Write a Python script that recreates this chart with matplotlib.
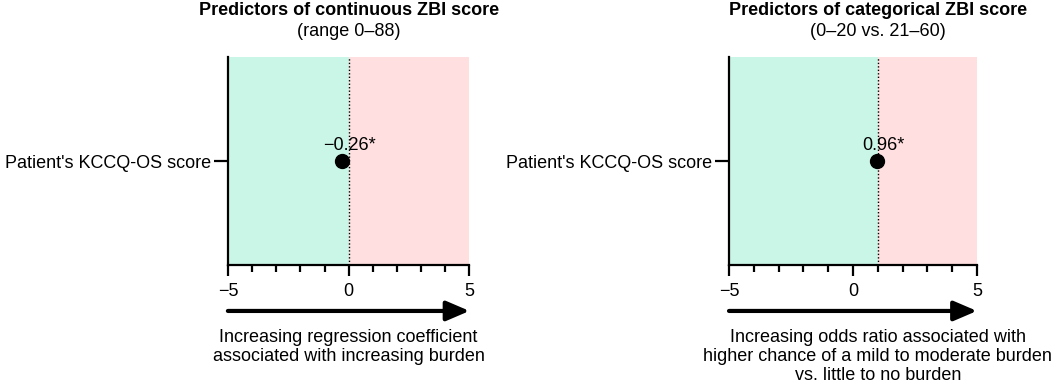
import matplotlib.pyplot as plt
from matplotlib.ticker import MultipleLocator

plt.rcParams['font.family'] = ['Liberation Sans', 'DejaVu Sans']

# data
predictor = "Patient's KCCQ-OS score"
estimates = [-0.26, 0.96]
estimate_labels = ['\u22120.26*', '0.96*']
ref_lines = [0, 1]
titles = ['Predictors of continuous ZBI score', 'Predictors of categorical ZBI score']
subtitles = ['(range 0\u201388)', '(0\u201320 vs. 21\u201360)']
x_captions = ['Increasing regression coefficient\nassociated with increasing burden',
              'Increasing odds ratio associated with\nhigher chance of a mild to moderate burden\nvs. little to no burden']
x_min, x_max = -5, 5

verde = '#CAF6E7'
rosa = '#FFDFDF'
fs = 13

fig = plt.figure(figsize=(10.55, 3.86), dpi=100)
posiciones = [[0.216, 0.313, 0.229, 0.539], [0.691, 0.313, 0.235, 0.539]]

for i in range(2):
    ax = fig.add_axes(posiciones[i])
    ax.set_xlim(x_min, x_max)
    ax.set_ylim(-1, 1)
    ax.axvspan(x_min, ref_lines[i], color=verde, lw=0, zorder=0)
    ax.axvspan(ref_lines[i], x_max, color=rosa, lw=0, zorder=0)
    ax.axvline(ref_lines[i], color='black', lw=1, ls=(0, (1, 1.5)), zorder=1)
    ax.plot([estimates[i]], [0], 'o', color='black', markersize=10, zorder=3)
    ax.annotate(estimate_labels[i], (estimates[i], 0), xytext=(5, 5),
                textcoords='offset points', ha='center', va='bottom', fontsize=fs)

    for s in ['top', 'right']:
        ax.spines[s].set_visible(False)
    ax.spines['left'].set_linewidth(1.6)
    ax.spines['bottom'].set_linewidth(1.6)
    ax.set_yticks([0])
    ax.set_yticklabels([predictor], fontsize=fs)
    ax.tick_params(axis='y', length=10, width=1.6, pad=2)
    ax.set_xticks([-5, 0, 5])
    ax.set_xticklabels(['\u22125', '0', '5'], fontsize=fs)
    ax.xaxis.set_minor_locator(MultipleLocator(1))
    ax.tick_params(axis='x', which='major', length=8, width=1.6, pad=5)
    ax.tick_params(axis='x', which='minor', length=5, width=1.6)

    trans = ax.get_xaxis_transform()
    # flecha
    ax.annotate('', xy=(x_max, -0.22), xytext=(x_min, -0.22), xycoords=trans,
                textcoords=trans, annotation_clip=False,
                arrowprops=dict(arrowstyle='-|>,head_length=1.4,head_width=0.6',
                                color='black', lw=3, shrinkA=0, shrinkB=0))
    ax.text(ref_lines[i], -0.305, x_captions[i], transform=trans, ha='center',
            va='top', fontsize=fs, linespacing=1.15)
    ax.text(ref_lines[i], 1.08, subtitles[i], transform=trans, ha='center',
            va='bottom', fontsize=fs)
    ax.text(ref_lines[i], 1.185, titles[i], transform=trans, ha='center',
            va='bottom', fontsize=fs, fontweight='bold')

plt.savefig('out.png', dpi=100)
